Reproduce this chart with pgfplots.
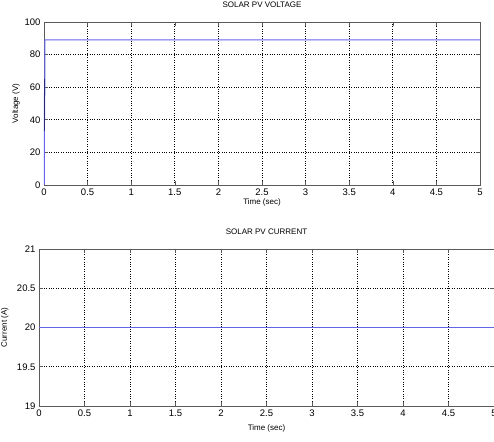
\documentclass[border=0pt]{standalone}
\usepackage{fontspec}
\setmainfont{Liberation Sans}
\usepackage{pgfplots}
\pgfplotsset{compat=1.18}
\definecolor{mblue}{RGB}{100,100,235}
\definecolor{dblue}{RGB}{40,40,120}
\definecolor{framegray}{RGB}{90,90,90}
\begin{document}
\begin{tikzpicture}
\pgfplotsset{scopestyle/.style={
  set layers=standard,
  scale only axis, xmin=0, xmax=5, xtick={0,0.5,...,5},
  axis line style={framegray, line width=0.9pt},
  tick align=inside, xtick pos=both, ytick pos=both,
  major tick length=4pt, tick style={framegray, line width=0.6pt},
  grid=major, major grid style={black, dotted, line width=0.7pt},
  /pgf/number format/assume math mode=true,
  tick label style={font=\fontsize{9.5}{10}\selectfont},
  label style={font=\fontsize{8}{9}\selectfont},
  title style={font=\fontsize{8}{9}\selectfont, at={(0.5,1)}, anchor=base, yshift=8.5pt},
  xlabel={Time (sec)}, no markers,
}}
\begin{axis}[scopestyle, at={(44pt,256pt)}, anchor=south west, width=436pt, height=163pt,
  ymin=0, ymax=100, ytick={0,20,...,100},
  title={SOLAR PV VOLTAGE}, ylabel={Voltage (V)},
  xlabel style={at={(axis description cs:0.5,0)}, anchor=base, yshift=-20pt},
  ylabel style={at={(axis description cs:-0.064,0.5)}, anchor=center}]
\addplot[mblue, line width=1pt, on layer=axis foreground] coordinates {(0.004,0) (0.005,33) (0.006,65) (0.007,40) (0.008,62) (0.009,55) (0.010,89) (5,89)};
\addplot[dblue, line width=1pt, on layer=axis foreground] coordinates {(0.006,33) (0.006,65)};
\end{axis}
\begin{axis}[scopestyle, at={(39pt,35pt)}, anchor=south west, width=455pt, height=157pt,
  ymin=19, ymax=21, ytick={19,19.5,20,20.5,21},
  title={SOLAR PV CURRENT}, ylabel={Current (A)},
  xlabel style={at={(axis description cs:0.5,0)}, anchor=base, yshift=-24pt},
  ylabel style={at={(axis description cs:-0.075,0.5)}, anchor=center}]
\addplot[mblue, line width=1pt, on layer=axis foreground] coordinates {(0,20) (2.5,20) (5,20)};
\end{axis}
\pgfresetboundingbox
\path (0,0) rectangle (494pt,441pt);
\end{tikzpicture}
\end{document}
